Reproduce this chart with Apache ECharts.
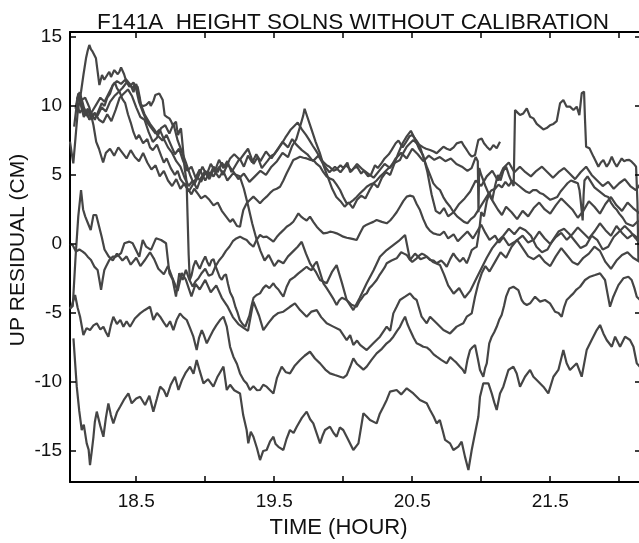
<!DOCTYPE html>
<html lang="en">
<head>
    <meta charset="UTF-8">
    <title>F141A height solutions</title>
    <script src="https://cdn.jsdelivr.net/npm/echarts@6/dist/echarts.min.js"></script>
    <style>
        * { margin: 0; padding: 0 }
        html, body { width: 100%; height: 100%; background: #fff; }
        #main { width: 639px; height: 543px; }
    </style>
</head>
<body>
<div id="main"></div>
<script type="text/javascript">
    /*---------- axis ticks ----------*/
    var xTickStart = 18.5, xTickStep = 0.5;   // ticks every half hour, labels on the x.5 ones
    var yTickMin = -15, yTickMax = 15, yTickStep = 5;

    /*---------- traces: [hour, cm] ----------*/
    var traceA = [[18.045,-6.84],[18.057,-8.6],[18.069,-10.34],[18.087,-12.1],[18.105,-13.48],[18.12,-13.1],[18.141,-14.45],[18.155,-14.9],[18.165,-16.02],[18.178,-15.0],[18.19,-13.97],[18.2,-12.9],[18.214,-12.15],[18.24,-13.2],[18.262,-13.97],[18.28,-12.6],[18.298,-11.55],[18.316,-12.4],[18.334,-13.0],[18.36,-12.2],[18.383,-11.79],[18.41,-11.3],[18.443,-10.83],[18.467,-11.55],[18.5,-11.2],[18.528,-11.07],[18.564,-11.67],[18.595,-11.0],[18.624,-12.15],[18.65,-11.2],[18.673,-10.34],[18.7,-10.6],[18.721,-11.07],[18.75,-10.2],[18.781,-9.62],[18.806,-10.58],[18.83,-9.9],[18.86,-9.3],[18.89,-8.89],[18.915,-9.4],[18.938,-8.41],[18.96,-9.2],[18.987,-10.1],[19.02,-9.8],[19.059,-10.34],[19.09,-9.6],[19.132,-8.89],[19.156,-10.58],[19.18,-10.2],[19.21,-10.6],[19.252,-10.83],[19.275,-12.4],[19.3,-13.48],[19.312,-14.45],[19.33,-13.6],[19.349,-13.97],[19.375,-14.8],[19.397,-15.66],[19.42,-15.0],[19.445,-14.93],[19.47,-14.3],[19.494,-13.97],[19.51,-14.5],[19.53,-14.7],[19.566,-14.93],[19.59,-14.1],[19.614,-13.48],[19.64,-13.7],[19.663,-13.24],[19.7,-12.6],[19.735,-12.15],[19.76,-12.7],[19.783,-13.0],[19.81,-13.8],[19.832,-14.45],[19.85,-13.9],[19.868,-13.48],[19.904,-13.24],[19.93,-13.7],[19.952,-13.97],[19.975,-13.3],[20.0,-13.48],[20.037,-14.2],[20.073,-14.93],[20.11,-14.45],[20.146,-12.27],[20.17,-12.5],[20.194,-12.76],[20.242,-13.0],[20.265,-12.3],[20.291,-11.79],[20.315,-11.3],[20.339,-10.7],[20.387,-10.58],[20.42,-10.9],[20.46,-10.46],[20.508,-10.83],[20.556,-11.31],[20.605,-11.55],[20.629,-12.03],[20.655,-12.5],[20.677,-13.0],[20.7,-12.76],[20.72,-13.5],[20.738,-14.2],[20.774,-14.45],[20.798,-14.93],[20.834,-14.69],[20.858,-14.33],[20.882,-15.41],[20.907,-16.38],[20.931,-14.93],[20.955,-13.72],[20.979,-12.52],[20.991,-11.07],[21.015,-10.1],[21.052,-10.1],[21.076,-10.83],[21.095,-11.5],[21.112,-12.03],[21.136,-10.83],[21.16,-10.34],[21.197,-9.13],[21.233,-8.89],[21.257,-9.38],[21.281,-10.34],[21.317,-9.62],[21.354,-9.13],[21.378,-9.62],[21.402,-9.86],[21.45,-10.34],[21.486,-10.83],[21.523,-9.62],[21.559,-9.13],[21.595,-7.69],[21.619,-8.65],[21.643,-9.13],[21.692,-8.65],[21.728,-9.62],[21.764,-7.69],[21.8,-6.96],[21.837,-6.24],[21.861,-5.87],[21.885,-6.48],[21.909,-6.96],[21.946,-7.45],[21.97,-6.72],[22.006,-7.45],[22.042,-6.72],[22.078,-6.96],[22.103,-7.45],[22.127,-8.65],[22.15,-8.9]];

    var traceB = [[18.02,-4.7],[18.035,-4.4],[18.057,-3.7],[18.075,-4.6],[18.093,-5.27],[18.117,-6.6],[18.14,-6.1],[18.165,-6.24],[18.19,-5.9],[18.214,-5.75],[18.24,-6.2],[18.262,-6.0],[18.28,-6.4],[18.298,-6.72],[18.316,-5.9],[18.334,-5.27],[18.36,-5.8],[18.385,-5.5],[18.407,-6.0],[18.43,-5.6],[18.455,-6.0],[18.49,-5.4],[18.528,-5.03],[18.56,-4.8],[18.6,-4.55],[18.624,-5.51],[18.65,-5.0],[18.673,-5.27],[18.7,-5.7],[18.721,-6.0],[18.745,-5.6],[18.769,-6.24],[18.793,-5.5],[18.817,-5.03],[18.84,-5.3],[18.866,-5.51],[18.89,-6.1],[18.914,-6.72],[18.938,-7.69],[18.955,-6.8],[18.975,-6.24],[18.99,-6.6],[19.011,-7.2],[19.035,-6.7],[19.059,-6.24],[19.08,-5.9],[19.107,-5.51],[19.132,-5.27],[19.156,-5.99],[19.18,-7.45],[19.204,-8.17],[19.23,-8.7],[19.252,-9.38],[19.28,-9.9],[19.3,-10.1],[19.324,-10.58],[19.349,-10.3],[19.375,-10.6],[19.397,-10.58],[19.42,-10.2],[19.445,-10.34],[19.47,-10.6],[19.494,-10.83],[19.52,-9.7],[19.554,-8.89],[19.585,-9.3],[19.614,-9.38],[19.65,-8.8],[19.687,-8.41],[19.72,-8.1],[19.759,-7.81],[19.795,-8.3],[19.832,-8.65],[19.87,-9.1],[19.904,-9.38],[19.94,-9.5],[19.977,-9.62],[20.0,-9.7],[20.025,-9.5],[20.05,-8.9],[20.073,-8.29],[20.1,-8.7],[20.122,-8.89],[20.146,-9.1],[20.17,-8.89],[20.205,-8.4],[20.242,-7.93],[20.28,-7.6],[20.315,-7.2],[20.34,-7.0],[20.363,-6.72],[20.39,-6.3],[20.411,-6.0],[20.43,-5.6],[20.448,-5.27],[20.465,-5.8],[20.484,-6.24],[20.51,-6.8],[20.532,-7.2],[20.555,-7.3],[20.58,-7.45],[20.605,-7.5],[20.629,-7.69],[20.655,-8.0],[20.677,-8.17],[20.71,-8.4],[20.75,-8.65],[20.775,-8.2],[20.798,-8.41],[20.82,-8.6],[20.846,-8.89],[20.865,-9.1],[20.882,-9.38],[20.9,-8.4],[20.919,-7.69],[20.935,-7.5],[20.955,-7.32],[20.975,-8.3],[20.991,-9.13],[21.015,-9.62],[21.028,-9.0],[21.04,-8.65],[21.058,-7.2],[21.076,-6.72],[21.094,-6.4],[21.112,-6.0],[21.13,-5.5],[21.148,-5.15],[21.165,-4.5],[21.18,-3.82],[21.204,-3.22],[21.233,-3.1],[21.269,-3.34],[21.293,-4.06],[21.31,-4.3],[21.33,-4.42],[21.354,-4.3],[21.39,-3.82],[21.426,-4.18],[21.462,-4.06],[21.498,-4.3],[21.535,-4.91],[21.56,-5.0],[21.583,-5.27],[21.6,-4.6],[21.619,-4.06],[21.645,-3.8],[21.668,-3.58],[21.69,-3.3],[21.716,-3.1],[21.752,-2.61],[21.788,-2.37],[21.825,-2.25],[21.861,-2.13],[21.897,-2.61],[21.915,-3.6],[21.933,-4.55],[21.957,-3.82],[21.994,-2.98],[22.03,-2.49],[22.066,-2.37],[22.09,-2.61],[22.11,-3.2],[22.127,-3.82],[22.15,-4.06]];

    var traceC = [[18.02,-4.7],[18.04,-4.5],[18.06,-1.0],[18.08,2.0],[18.1,3.9],[18.115,2.5],[18.13,2.0],[18.15,1.5],[18.17,1.0],[18.19,2.1],[18.21,2.1],[18.23,1.3],[18.25,0.5],[18.27,-0.4],[18.3,-0.9],[18.33,-1.2],[18.36,-0.7],[18.4,-1.2],[18.43,-0.9],[18.46,-1.5],[18.5,-1.0],[18.53,-1.6],[18.56,-1.2],[18.6,-0.6],[18.63,-1.1],[18.66,-1.8],[18.7,-2.2],[18.73,-1.6],[18.76,-2.4],[18.8,-3.4],[18.83,-2.1],[18.86,-2.6],[18.9,-3.8],[18.93,-2.9],[18.96,-3.3],[19.0,-2.6],[19.04,-3.5],[19.08,-3.0],[19.12,-3.9],[19.16,-4.5],[19.2,-5.3],[19.24,-5.8],[19.28,-6.1],[19.31,-6.3],[19.349,-4.18],[19.39,-5.2],[19.421,-6.24],[19.46,-5.7],[19.494,-5.27],[19.53,-5.0],[19.566,-4.91],[19.614,-4.55],[19.65,-4.3],[19.687,-4.79],[19.735,-5.27],[19.77,-4.9],[19.808,-4.79],[19.84,-5.3],[19.88,-5.75],[19.928,-5.99],[19.977,-6.24],[20.025,-6.96],[20.05,-6.6],[20.073,-7.32],[20.1,-7.0],[20.122,-7.32],[20.17,-7.69],[20.218,-7.2],[20.266,-6.72],[20.315,-5.99],[20.34,-6.3],[20.363,-5.03],[20.387,-4.55],[20.411,-4.06],[20.448,-3.82],[20.484,-3.58],[20.51,-3.9],[20.532,-4.06],[20.568,-5.27],[20.605,-5.75],[20.629,-5.27],[20.677,-5.75],[20.726,-6.24],[20.774,-6.48],[20.822,-5.99],[20.87,-5.75],[20.895,-5.27],[20.931,-5.03],[20.955,-3.82],[20.979,-2.85],[21.003,-2.13],[21.03,-1.6],[21.06,-2.0],[21.1,-1.3],[21.14,-0.6],[21.18,-1.0],[21.22,-0.2],[21.26,0.3],[21.3,-0.3],[21.34,-0.9],[21.38,-1.1],[21.42,-0.8],[21.46,-1.3],[21.5,-1.6],[21.54,-0.9],[21.58,-0.3],[21.62,-0.8],[21.66,-1.3],[21.7,-1.5],[21.74,-1.0],[21.78,-0.7],[21.82,-0.2],[21.86,-0.5],[21.9,-1.3],[21.94,-1.8],[21.98,-1.2],[22.02,-0.8],[22.06,-0.6],[22.1,-1.0],[22.15,-1.3]];

    var traceD = [[18.02,7.41],[18.032,6.6],[18.044,5.84],[18.06,7.7],[18.076,9.58],[18.088,10.3],[18.1,11.03],[18.118,12.3],[18.136,13.45],[18.148,14.0],[18.16,14.42],[18.172,14.1],[18.184,13.93],[18.196,13.8],[18.208,13.45],[18.22,12.5],[18.233,11.52],[18.252,12.24],[18.268,11.9],[18.281,12.0],[18.293,12.3],[18.305,12.48],[18.317,12.1],[18.329,12.24],[18.341,12.6],[18.353,12.72],[18.366,12.3],[18.378,12.48],[18.39,12.8],[18.402,12.85],[18.412,12.3],[18.421,12.0],[18.435,11.9],[18.45,11.64],[18.462,11.5],[18.474,11.27],[18.486,11.5],[18.498,11.64],[18.51,11.4],[18.518,11.27],[18.526,10.6],[18.534,10.07],[18.552,10.0],[18.571,10.07],[18.583,10.2],[18.595,10.31],[18.605,10.0],[18.614,9.95],[18.626,10.4],[18.638,10.79],[18.652,10.7],[18.667,10.91],[18.68,10.8],[18.692,10.43],[18.7,9.8],[18.706,9.34],[18.722,9.2],[18.74,9.1],[18.752,8.9],[18.764,8.62],[18.776,8.7],[18.788,8.86],[18.796,8.3],[18.803,7.89],[18.814,8.2],[18.824,8.38],[18.83,7.8],[18.836,7.17],[18.851,5.48],[18.865,4.51],[18.872,2.0],[18.88,-0.8],[18.888,-2.6],[18.9,-2.3],[18.915,-1.6],[18.93,-1.2],[18.945,-1.5],[18.96,-1.8],[18.98,-1.3],[19.0,-0.9],[19.015,-1.3],[19.03,-1.6],[19.045,-1.2],[19.06,-1.1],[19.075,-1.6],[19.09,-2.0],[19.105,-2.4],[19.12,-2.6],[19.135,-2.3],[19.15,-2.2],[19.165,-2.9],[19.18,-3.5],[19.2,-3.9],[19.22,-4.6],[19.235,-5.0],[19.25,-5.5],[19.27,-5.8],[19.29,-6.0],[19.305,-5.6],[19.32,-5.2],[19.335,-4.5],[19.35,-3.9],[19.372,-3.7],[19.397,-3.58],[19.42,-3.2],[19.44,-3.0],[19.465,-3.2],[19.494,-2.85],[19.51,-3.1],[19.53,-3.3],[19.55,-3.6],[19.566,-3.82],[19.59,-3.1],[19.614,-2.61],[19.645,-2.4],[19.675,-2.13],[19.705,-1.9],[19.735,-1.65],[19.752,-1.8],[19.77,-1.9],[19.79,-1.5],[19.808,-1.28],[19.83,-2.0],[19.856,-2.85],[19.88,-3.2],[19.904,-3.58],[19.93,-4.0],[19.952,-4.42],[19.97,-4.1],[19.99,-3.9],[20.025,-4.06],[20.06,-4.4],[20.097,-4.55],[20.115,-4.2],[20.13,-4.0],[20.15,-3.7],[20.17,-3.58],[20.19,-3.2],[20.21,-3.0],[20.242,-2.61],[20.26,-2.3],[20.28,-2.0],[20.3,-1.7],[20.315,-1.4],[20.35,-1.2],[20.387,-1.04],[20.405,-0.8],[20.42,-0.6],[20.44,-0.7],[20.46,-0.8],[20.48,-1.1],[20.5,-1.3],[20.532,-1.04],[20.55,-0.85],[20.57,-0.7],[20.59,-0.8],[20.605,-0.92],[20.629,-1.16],[20.655,-1.2],[20.677,-1.4],[20.71,-1.2],[20.73,-1.4],[20.75,-1.65],[20.775,-1.1],[20.798,-0.68],[20.82,-1.0],[20.846,-1.28],[20.87,-1.0],[20.895,-1.4],[20.915,-0.9],[20.931,-0.44],[20.95,-0.3],[20.967,-0.2],[20.986,1.0],[21.0,2.3],[21.02,2.0],[21.04,3.1],[21.06,3.7],[21.08,3.2],[21.1,4.2],[21.12,5.0],[21.14,4.6],[21.16,5.3],[21.18,5.6],[21.2,5.0],[21.22,4.5],[21.235,4.2],[21.245,9.71],[21.265,9.5],[21.281,9.34],[21.305,9.46],[21.33,9.83],[21.354,9.22],[21.378,9.1],[21.402,8.7],[21.426,8.5],[21.45,8.3],[21.474,8.4],[21.498,8.6],[21.523,8.7],[21.547,8.9],[21.56,9.6],[21.571,10.19],[21.595,10.43],[21.619,9.95],[21.643,9.95],[21.668,9.71],[21.692,9.95],[21.711,9.34],[21.728,10.92],[21.745,11.04],[21.752,9.0],[21.76,7.05],[21.784,6.93],[21.813,6.33],[21.83,6.0],[21.849,5.6],[21.867,5.9],[21.885,6.08],[21.909,5.6],[21.928,5.9],[21.946,6.33],[21.964,5.9],[21.982,5.6],[22.0,5.9],[22.018,6.2],[22.036,6.0],[22.054,6.08],[22.072,6.1],[22.09,5.96],[22.106,5.8],[22.122,5.6],[22.132,3.0],[22.139,-1.2]];

    var traceE = [[18.02,0.0],[18.04,-0.1],[18.063,-0.55],[18.088,-0.4],[18.112,-0.55],[18.13,-0.7],[18.148,-0.92],[18.172,-1.16],[18.196,-1.64],[18.22,-1.88],[18.233,-2.61],[18.245,-3.33],[18.258,-2.5],[18.269,-1.88],[18.281,-1.64],[18.305,-1.16],[18.329,-0.92],[18.353,-0.92],[18.372,-0.8],[18.39,-0.67],[18.414,0.05],[18.45,0.17],[18.474,0.05],[18.498,-0.43],[18.522,-0.92],[18.547,0.29],[18.571,-0.19],[18.607,-0.43],[18.643,0.41],[18.68,0.29],[18.716,0.05],[18.74,-2.12],[18.764,-2.6],[18.788,-3.81],[18.812,-2.12],[18.836,-2.6],[18.86,-1.88],[18.885,-2.6],[18.909,-3.09],[18.93,-2.7],[18.95,-2.5],[18.975,-2.1],[19.0,-1.8],[19.025,-2.3],[19.05,-2.2],[19.075,-1.6],[19.1,-1.2],[19.125,-0.9],[19.15,-0.5],[19.175,-0.2],[19.2,0.2],[19.225,0.4],[19.252,0.53],[19.276,0.4],[19.3,0.29],[19.325,0.0],[19.349,-0.2],[19.372,0.3],[19.397,0.65],[19.42,0.5],[19.445,0.53],[19.47,0.35],[19.494,0.17],[19.518,0.5],[19.542,0.77],[19.566,1.0],[19.59,1.25],[19.614,1.4],[19.638,1.61],[19.656,1.9],[19.675,2.22],[19.693,2.0],[19.711,1.86],[19.735,1.7],[19.759,1.98],[19.783,1.6],[19.808,1.25],[19.832,1.0],[19.856,0.77],[19.88,0.8],[19.904,0.89],[19.928,0.85],[19.952,0.77],[19.977,0.65],[20.0,0.53],[20.025,0.45],[20.049,0.41],[20.073,0.35],[20.097,0.29],[20.122,0.8],[20.146,1.25],[20.17,1.4],[20.194,1.5],[20.218,1.6],[20.242,1.74],[20.28,1.6],[20.315,1.5],[20.34,1.7],[20.363,1.98],[20.387,2.3],[20.411,2.7],[20.435,3.1],[20.46,3.43],[20.484,3.5],[20.508,3.43],[20.532,2.9],[20.556,2.46],[20.58,1.8],[20.605,1.25],[20.629,0.95],[20.653,0.77],[20.677,0.7],[20.701,0.65],[20.73,0.9],[20.76,0.4],[20.8,0.7],[20.83,0.2],[20.86,0.5],[20.9,0.9],[20.94,0.4],[20.97,0.9],[21.0,1.4],[21.03,0.8],[21.06,0.3],[21.1,0.6],[21.13,0.1],[21.16,0.5],[21.2,-0.1],[21.25,0.2],[21.3,0.6],[21.34,0.1],[21.38,0.3],[21.42,0.9],[21.46,0.4],[21.5,0.0],[21.54,0.5],[21.58,0.8],[21.62,0.3],[21.66,0.7],[21.7,1.2],[21.74,0.8],[21.78,0.4],[21.82,0.9],[21.86,1.5],[21.9,1.0],[21.94,0.6],[21.98,1.3],[22.02,0.8],[22.06,0.4],[22.1,0.7],[22.15,0.3]];

    var traceF = [[18.07,10.0],[18.085,10.8],[18.1,10.2],[18.12,9.6],[18.14,9.3],[18.16,9.7],[18.18,9.4],[18.2,9.0],[18.22,9.5],[18.233,9.6],[18.25,10.2],[18.27,10.0],[18.29,10.6],[18.31,10.9],[18.33,11.5],[18.345,11.7],[18.36,11.3],[18.38,11.0],[18.4,10.5],[18.42,10.2],[18.44,9.4],[18.46,8.8],[18.48,8.1],[18.5,7.6],[18.52,7.9],[18.55,7.3],[18.58,7.6],[18.6,7.0],[18.62,6.8],[18.65,7.2],[18.68,6.4],[18.7,5.9],[18.72,6.2],[18.75,5.5],[18.78,5.0],[18.8,5.3],[18.82,4.7],[18.85,4.3],[18.88,3.9],[18.9,3.6],[18.92,4.0],[18.95,3.6],[18.97,3.3],[19.0,3.5],[19.03,3.2],[19.06,2.8],[19.09,3.0],[19.12,2.4],[19.15,2.0],[19.18,1.6],[19.2,1.8],[19.23,1.3],[19.252,1.25],[19.264,1.9],[19.276,2.46],[19.3,2.95],[19.325,3.2],[19.349,3.43],[19.372,3.2],[19.397,2.95],[19.42,3.2],[19.445,3.43],[19.47,3.7],[19.494,3.91],[19.518,4.0],[19.542,4.15],[19.566,4.6],[19.59,5.12],[19.614,5.6],[19.638,6.08],[19.662,6.2],[19.687,6.32],[19.711,6.25],[19.735,6.2],[19.759,6.1],[19.783,6.08],[19.808,5.8],[19.832,5.6],[19.856,5.2],[19.88,4.88],[19.904,4.75],[19.928,4.63],[19.952,4.3],[19.977,3.91],[20.0,3.4],[20.025,2.94],[20.049,3.0],[20.073,3.18],[20.097,3.4],[20.122,3.67],[20.146,3.9],[20.17,4.15],[20.194,4.3],[20.218,4.39],[20.242,4.6],[20.266,4.88],[20.29,5.1],[20.315,5.36],[20.34,5.6],[20.363,5.84],[20.387,5.95],[20.411,6.08],[20.435,6.6],[20.46,7.05],[20.484,7.3],[20.508,7.53],[20.532,7.3],[20.556,7.05],[20.58,6.3],[20.605,5.6],[20.629,5.0],[20.653,4.39],[20.677,4.1],[20.701,3.91],[20.725,3.4],[20.75,3.0],[20.775,2.7],[20.8,2.3],[20.825,2.0],[20.85,1.8],[20.875,1.6],[20.9,1.5],[20.925,1.8],[20.95,2.0],[20.975,2.4],[21.0,2.8],[21.025,3.2],[21.05,3.6],[21.075,3.9],[21.1,4.0],[21.125,4.3],[21.15,4.1],[21.175,4.5],[21.2,4.2],[21.225,4.6],[21.25,4.4],[21.275,4.2],[21.3,4.0],[21.325,3.8],[21.35,3.7],[21.375,3.9],[21.4,3.9],[21.425,3.7],[21.45,3.6],[21.475,3.4],[21.5,3.2],[21.525,3.3],[21.55,3.4],[21.575,3.8],[21.6,4.1],[21.625,4.4],[21.65,4.6],[21.675,4.5],[21.7,4.4],[21.712,3.9],[21.72,3.2],[21.728,2.4],[21.735,1.7],[21.742,3.6],[21.748,4.6],[21.77,4.9],[21.795,4.5],[21.82,4.1],[21.845,3.9],[21.87,3.7],[21.895,3.5],[21.92,3.4],[21.94,3.0],[21.96,2.7],[21.98,2.5],[22.0,2.2],[22.025,1.9],[22.05,1.5],[22.075,1.4],[22.1,1.3],[22.12,1.5],[22.14,1.7]];

    var traceG = [[18.05,8.5],[18.07,10.2],[18.09,9.5],[18.12,9.9],[18.15,9.2],[18.18,9.6],[18.21,10.1],[18.24,10.6],[18.27,10.3],[18.3,10.9],[18.33,11.5],[18.36,11.8],[18.39,11.6],[18.42,11.9],[18.45,11.4],[18.48,11.7],[18.5,11.2],[18.52,10.3],[18.55,9.5],[18.58,8.8],[18.61,8.4],[18.64,8.0],[18.67,8.3],[18.7,7.6],[18.73,7.0],[18.76,6.6],[18.79,6.0],[18.82,5.6],[18.85,4.8],[18.88,4.2],[18.91,4.6],[18.94,4.0],[18.97,4.8],[19.0,5.3],[19.03,4.9],[19.06,5.6],[19.09,5.2],[19.12,5.9],[19.15,5.5],[19.18,6.2],[19.21,6.5],[19.25,6.1],[19.28,6.5],[19.31,6.9],[19.35,5.8],[19.38,6.3],[19.41,5.5],[19.45,6.0],[19.48,6.4],[19.5,6.5],[19.53,6.9],[19.55,7.2],[19.58,7.7],[19.6,8.0],[19.62,8.3],[19.64,8.5],[19.67,8.8],[19.7,8.3],[19.73,7.9],[19.75,7.6],[19.78,7.1],[19.8,6.8],[19.83,6.3],[19.85,6.0],[19.88,5.7],[19.9,5.6],[19.93,5.3],[19.95,5.4],[19.98,5.7],[20.0,5.5],[20.03,5.9],[20.05,5.2],[20.08,5.5],[20.1,5.6],[20.13,5.1],[20.15,5.3],[20.18,4.9],[20.2,5.0],[20.23,5.7],[20.25,5.5],[20.28,5.9],[20.3,6.2],[20.33,6.5],[20.35,6.8],[20.38,7.3],[20.4,7.5],[20.43,7.0],[20.45,7.3],[20.48,7.8],[20.5,7.9],[20.53,7.5],[20.55,7.2],[20.58,7.0],[20.6,6.9],[20.629,6.81],[20.655,6.7],[20.677,6.57],[20.7,6.8],[20.726,7.05],[20.75,6.9],[20.774,6.81],[20.8,7.0],[20.822,7.29],[20.858,7.41],[20.875,7.1],[20.895,6.81],[20.915,6.5],[20.931,6.33],[20.955,6.45],[20.967,7.0],[20.979,7.53],[21.003,7.65],[21.02,7.3],[21.04,7.05],[21.064,6.81],[21.088,7.17],[21.112,6.93],[21.136,7.41]];

    var traceH = [[18.06,9.8],[18.08,10.9],[18.1,10.0],[18.12,9.2],[18.14,9.6],[18.16,9.0],[18.19,9.4],[18.22,9.3],[18.25,9.9],[18.28,9.6],[18.31,10.3],[18.34,10.7],[18.37,11.0],[18.4,11.3],[18.43,11.7],[18.46,11.5],[18.48,11.0],[18.5,11.6],[18.53,10.2],[18.56,9.4],[18.6,8.7],[18.63,8.3],[18.66,7.8],[18.69,7.5],[18.72,7.9],[18.75,7.2],[18.78,6.5],[18.81,6.9],[18.84,6.0],[18.87,5.3],[18.9,5.6],[18.93,4.8],[18.96,5.4],[19.0,4.6],[19.03,5.2],[19.06,4.9],[19.1,5.6],[19.13,5.0],[19.16,5.8],[19.2,5.3],[19.24,4.7],[19.28,5.1],[19.32,4.5],[19.36,4.9],[19.4,5.3],[19.44,5.0],[19.48,5.6],[19.52,6.0],[19.56,6.6],[19.6,6.3],[19.63,7.1],[19.66,7.6],[19.69,8.6],[19.71,9.3],[19.72,9.8],[19.74,9.2],[19.77,8.3],[19.8,7.4],[19.83,6.6],[19.86,5.6],[19.89,4.8],[19.92,4.0],[19.95,3.4],[19.98,3.1],[20.01,2.7],[20.04,3.0],[20.07,2.6],[20.1,3.2],[20.13,3.5],[20.16,3.3],[20.19,3.9],[20.22,4.4],[20.25,4.1],[20.28,4.8],[20.31,5.2],[20.34,5.0],[20.37,5.8],[20.4,6.6],[20.43,7.3],[20.46,7.8],[20.49,8.2],[20.52,7.6],[20.55,6.9],[20.58,6.4],[20.61,5.2],[20.64,3.6],[20.67,2.4],[20.7,2.2],[20.73,2.6],[20.76,2.0],[20.8,2.3],[20.84,2.9],[20.88,3.3],[20.92,3.8],[20.96,4.6],[21.0,4.2],[21.04,4.9],[21.08,5.3],[21.12,4.6],[21.16,5.5],[21.2,5.9],[21.24,5.2],[21.28,5.6],[21.32,5.2],[21.36,4.9],[21.4,5.3],[21.44,5.6],[21.48,5.2],[21.52,4.8],[21.56,5.2],[21.6,5.5],[21.64,5.1],[21.68,4.7],[21.72,5.2],[21.76,5.6],[21.8,5.0],[21.84,4.6],[21.88,4.2],[21.92,4.5],[21.96,4.0],[22.0,4.4],[22.04,4.7],[22.08,4.2],[22.12,3.9],[22.15,4.3]];

    var traceI = [[18.07,10.5],[18.09,11.0],[18.11,10.3],[18.13,9.5],[18.15,9.8],[18.17,9.2],[18.2,9.5],[18.23,9.0],[18.26,8.8],[18.29,9.4],[18.32,8.9],[18.35,9.7],[18.38,10.6],[18.41,10.9],[18.44,11.2],[18.47,10.7],[18.5,9.9],[18.53,9.2],[18.56,9.0],[18.59,8.1],[18.62,7.4],[18.65,7.7],[18.68,8.4],[18.71,8.6],[18.74,8.0],[18.77,8.7],[18.8,7.5],[18.83,6.7],[18.86,5.9],[18.89,5.0],[18.92,4.3],[18.95,4.9],[18.98,5.6],[19.01,5.0],[19.04,5.8],[19.07,5.3],[19.1,6.1],[19.13,5.5],[19.16,6.0],[19.19,5.2],[19.22,5.7],[19.25,6.2],[19.28,5.6],[19.31,6.4],[19.34,5.9],[19.37,6.5],[19.4,6.0],[19.44,6.7],[19.48,6.2],[19.52,6.8],[19.56,7.4],[19.6,7.0],[19.63,7.6],[19.66,7.2],[19.7,6.8],[19.74,6.5],[19.78,6.0],[19.82,6.4],[19.86,5.7],[19.9,5.2],[19.94,5.6],[19.98,5.2],[20.02,5.7],[20.06,5.3],[20.1,5.8],[20.14,5.4],[20.18,5.1],[20.22,4.8],[20.26,5.3],[20.3,5.8],[20.34,5.5],[20.38,6.2],[20.42,6.6],[20.46,6.2],[20.5,6.9],[20.54,6.5],[20.58,6.0],[20.62,6.4],[20.66,6.1],[20.7,6.3],[20.74,6.0],[20.78,6.2],[20.82,5.8],[20.86,5.6],[20.9,5.3],[20.93,5.5],[20.96,6.3],[20.975,6.0],[20.98,2.3],[20.985,5.5],[21.0,5.0],[21.03,4.2],[21.06,3.5],[21.09,3.0],[21.12,2.5],[21.15,2.1],[21.18,2.7],[21.22,2.3],[21.26,1.8],[21.3,2.4],[21.34,2.0],[21.38,2.6],[21.42,3.0],[21.46,2.5],[21.5,2.2],[21.54,2.8],[21.58,3.3],[21.62,2.9],[21.66,2.5],[21.7,1.9],[21.74,2.4],[21.78,3.1],[21.82,2.7],[21.86,2.2],[21.9,2.9],[21.94,3.4],[21.98,2.8],[22.02,2.4],[22.06,3.0],[22.1,2.6],[22.15,2.2]];

    var traceJ = [[18.08,10.9],[18.1,10.4],[18.13,10.6],[18.16,9.9],[18.19,8.6],[18.21,7.4],[18.23,6.9],[18.26,5.9],[18.28,6.6],[18.31,6.9],[18.34,6.4],[18.37,7.0],[18.4,6.6],[18.43,6.2],[18.46,6.8],[18.49,6.3],[18.52,6.0],[18.55,6.6],[18.58,5.9],[18.61,5.4],[18.64,5.7],[18.67,4.9],[18.7,5.3],[18.73,4.6],[18.76,4.2],[18.79,4.7],[18.82,4.0],[18.85,4.4],[18.88,3.8],[18.91,4.3],[18.94,4.9],[18.97,4.5],[19.0,5.2],[19.03,4.7],[19.06,5.4],[19.1,4.8],[19.13,5.3],[19.16,4.6],[19.2,5.1],[19.25,4.9],[19.28,4.0],[19.31,2.8],[19.34,1.5],[19.37,0.4],[19.4,-0.5],[19.43,-1.2],[19.46,-0.8],[19.5,-1.6],[19.53,-1.2],[19.566,-1.4],[19.6,-0.9],[19.64,-0.5],[19.67,-0.2],[19.699,0.16],[19.73,-0.7],[19.759,-1.4],[19.8,-2.0],[19.832,-2.61],[19.88,-2.85],[19.92,-2.0],[19.952,-1.53],[19.99,-2.8],[20.025,-4.06],[20.073,-4.79],[20.12,-3.9],[20.17,-2.85],[20.22,-1.9],[20.266,-0.92],[20.315,-0.44],[20.36,-0.1],[20.4,0.2],[20.448,0.65],[20.484,-1.16],[20.52,-0.7],[20.56,-1.1],[20.605,-0.92],[20.65,-1.3],[20.701,-1.53],[20.73,-2.2],[20.76,-3.0],[20.8,-3.6],[20.84,-3.2],[20.88,-3.9],[20.92,-3.4],[20.96,-2.6],[21.0,-1.8],[21.04,-1.0],[21.08,-0.3],[21.12,0.2],[21.16,0.6],[21.2,1.1],[21.24,0.7],[21.28,1.2],[21.32,1.0],[21.36,0.6],[21.4,-0.2],[21.44,-0.6],[21.48,-0.4],[21.52,0.3],[21.56,0.9],[21.6,1.1],[21.64,0.7],[21.68,0.2],[21.72,-0.3],[21.76,-0.1],[21.8,0.6],[21.84,0.3],[21.88,-0.4],[21.92,-0.2],[21.96,0.5],[22.0,0.9],[22.04,1.3],[22.08,0.9],[22.12,0.4],[22.15,0.0]];

    var traces = [traceA, traceB, traceC, traceD, traceE, traceF, traceG, traceH, traceI, traceJ];

    /*---------- chart ----------*/
    var myChart = echarts.init(document.getElementById('main'));
    var font = 'Liberation Sans, Arial, Helvetica, sans-serif';

    // plot frame in pixels (138 px per hour, 13.8 px per cm)
    var frameLeft = 70, frameTop = 32, frameW = 571, frameH = 450;
    var pxPerHour = 138, pxPerCm = 13.8;
    var xMin = 18.02, xMax = xMin + frameW / pxPerHour;
    var yMax = 15.36, yMin = yMax - frameH / pxPerCm;
    var tickLen = 6;   // px, ticks point into the plot

    // label grids share the frame scale but start on round values so interval labels land right
    var xTickLeft = frameLeft + (xTickStart - xMin) * pxPerHour;
    var xTickW = (xMax - xTickStart) * pxPerHour;
    var yTickTop = frameTop + (yMax - yTickMax) * pxPerCm;
    var yTickH = (yTickMax - yTickMin) * pxPerCm;

    var frameLine = { show: true, onZero: false, lineStyle: { color: '#000', width: 2 } };
    var offLine = { show: false, onZero: false };
    var quietAxis = function (idx, lo, hi) {
        return { gridIndex: idx, type: 'value', min: lo, max: hi,
                 axisLine: offLine, axisTick: { show: false },
                 axisLabel: { show: false }, splitLine: { show: false } };
    };
    var halfHourLabel = function (v) {
        var h = Math.round(v * 2);
        return (Math.abs(v * 2 - h) < 1e-6 && h % 2 === 1) ? v.toFixed(1) : '';
    };
    var box = function (left, top, width, height) {
        return { left: left, top: top, width: width, height: height, outerBoundsMode: 'none', containLabel: false };
    };

    // tick marks on all four sides, placed through the frame's own scales
    var xTickVals = [], yTickVals = [];
    for (var t = xTickStart; t <= xMax + 1e-9; t += xTickStep) xTickVals.push(Math.round(t * 100) / 100);
    for (var s = yTickMin; s <= yTickMax; s += yTickStep) yTickVals.push(s);
    var dy = tickLen / pxPerCm, dx = tickLen / pxPerHour;
    var tickSegments = [];
    xTickVals.forEach(function (x) {
        tickSegments.push([{ coord: [x, yMin] }, { coord: [x, yMin + dy] }]);
        tickSegments.push([{ coord: [x, yMax] }, { coord: [x, yMax - dy] }]);
    });
    yTickVals.forEach(function (y) {
        tickSegments.push([{ coord: [xMin, y] }, { coord: [xMin + dx, y] }]);
        tickSegments.push([{ coord: [xMax, y] }, { coord: [xMax - dx, y] }]);
    });

    var seriesList = traces.map(function (tr, i) {
        var s = {
            type: 'line',
            data: tr,
            xAxisIndex: 0,
            yAxisIndex: 0,
            showSymbol: false,
            symbol: 'none',
            smooth: false,
            lineStyle: { color: '#454545', width: 2.2 },
            clip: true
        };
        if (i === 0) {
            s.markLine = {
                silent: true,
                symbol: ['none', 'none'],
                label: { show: false },
                emphasis: { disabled: true },
                lineStyle: { color: '#000', width: 1.5, type: 'solid' },
                data: tickSegments
            };
        }
        return s;
    });

    myChart.setOption({
        animation: false,
        backgroundColor: '#fff',
        title: {
            text: 'F141A  HEIGHT SOLNS WITHOUT CALIBRATION',
            left: 348,
            top: 6,
            textAlign: 'center',
            textStyle: { fontFamily: font, fontSize: 22.5, fontWeight: 'normal', color: '#111' }
        },
        grid: [
            box(frameLeft, frameTop, frameW, frameH),          // 0: frame and data
            box(xTickLeft, frameTop, xTickW, frameH),          // 1: x labels
            box(frameLeft, yTickTop, frameW, yTickH)           // 2: y labels
        ],
        xAxis: [{
            gridIndex: 0, type: 'value', position: 'bottom', min: xMin, max: xMax,
            axisLine: frameLine, axisTick: { show: false }, axisLabel: { show: false }, splitLine: { show: false },
            name: 'TIME (HOUR)', nameLocation: 'middle', nameGap: 35,
            nameTextStyle: { fontFamily: font, fontSize: 22, color: '#111', padding: [0, 34, 0, 0] }
        }, {
            gridIndex: 0, type: 'value', position: 'top', min: xMin, max: xMax,
            axisLine: frameLine, axisTick: { show: false }, axisLabel: { show: false }, splitLine: { show: false }
        }, {
            gridIndex: 1, type: 'value', position: 'bottom',
            min: xTickStart, max: xMax, interval: xTickStep,
            axisLine: offLine, axisTick: { show: false },
            axisLabel: { show: true, margin: 10, color: '#111', fontFamily: font, fontSize: 19,
                showMaxLabel: false, formatter: halfHourLabel },
            splitLine: { show: false }
        }, quietAxis(2, 0, 1)],
        yAxis: [{
            gridIndex: 0, type: 'value', position: 'left', min: yMin, max: yMax,
            axisLine: frameLine, axisTick: { show: false }, axisLabel: { show: false }, splitLine: { show: false },
            name: 'UP RESIDUAL (CM)', nameLocation: 'middle', nameGap: 41,
            nameTextStyle: { fontFamily: font, fontSize: 21, color: '#111', padding: [0, 0, 0, 14] }
        }, {
            gridIndex: 0, type: 'value', position: 'right', min: yMin, max: yMax,
            axisLine: frameLine, axisTick: { show: false }, axisLabel: { show: false }, splitLine: { show: false }
        }, quietAxis(1, 0, 1), {
            gridIndex: 2, type: 'value', position: 'left',
            min: yTickMin, max: yTickMax, interval: yTickStep,
            axisLine: offLine, axisTick: { show: false },
            axisLabel: { show: true, margin: 8, color: '#111', fontFamily: font, fontSize: 19 },
            splitLine: { show: false }
        }],
        series: seriesList
    });
</script>
</body>
</html>
